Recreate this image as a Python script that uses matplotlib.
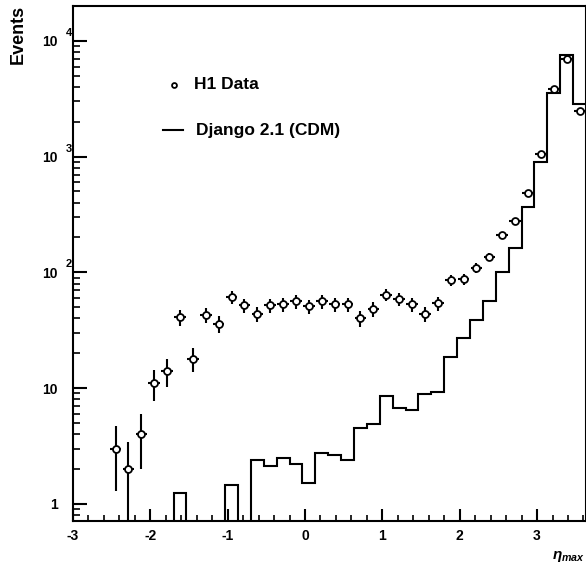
import numpy as np
import matplotlib
matplotlib.use("Agg")
import matplotlib.pyplot as plt
from matplotlib.ticker import FixedLocator, MultipleLocator, LogLocator, NullFormatter
import matplotlib.transforms as mtransforms

plt.rcParams['font.family'] = ['Liberation Sans', 'DejaVu Sans']
plt.rcParams['font.weight'] = 'bold'
plt.rcParams['axes.unicode_minus'] = False
plt.rcParams['mathtext.fontset'] = 'custom'
plt.rcParams['mathtext.rm'] = 'Liberation Sans:bold'
plt.rcParams['mathtext.it'] = 'Liberation Sans:bold:italic'
plt.rcParams['mathtext.bf'] = 'Liberation Sans:bold'

# eta_max bins, width 1/6, first edge at -2.7
first_edge = -2.7
bin_width = 1.0 / 6.0

# H1 data (events per bin), nan = no point
h1_events = [np.nan, 3, 2, 4, 11, 14, 41, 18, 43, 36,
             61, 52, 44, 52, 53, 56, 51, 56, 53, 53,
             40, 48, 64, 59, 53, 44, 54, 85, 87, 110,
             136, 209, 277, 488, 1050, 3840, 6980, 2470]
h1_err = [np.nan, 1.7, 1.4, 2.0, 3.3, 3.7, 6.4, 4.2, 6.6, 6.0,
          7.8, 7.2, 6.6, 7.2, 7.3, 7.5, 7.1, 7.5, 7.3, 7.3,
          6.3, 6.9, 8.0, 7.7, 7.3, 6.6, 7.3, 9.2, 9.3, 10.5,
          11.7, 14.5, 16.6, 22.1, 32.4, 62.0, 83.5, 49.7]

# Django 2.1 (CDM) prediction
django = [0, 0, 0, 0, 0, 0, 1.24, 0, 0, 0,
          1.45, 0, 2.39, 2.1, 2.48, 2.22, 1.5, 2.72, 2.65, 2.4,
          4.5, 4.9, 8.6, 6.7, 6.4, 8.9, 9.3, 18.6, 26.8, 39,
          57, 100, 163, 365, 894, 3540, 7580, 2860]

nbins = len(django)
edges = first_edge + bin_width * np.arange(nbins + 1)
centers = 0.5 * (edges[:-1] + edges[1:])

fig = plt.figure(figsize=(5.86, 5.67), dpi=100)
ax = fig.add_axes([73 / 586, 46 / 567, 513 / 586, 515 / 567])

hist_vals = np.where(np.array(django) > 0, django, 1e-3)
ax.stairs(hist_vals, edges, baseline=None, color='black', lw=1.5)

ax.errorbar(centers, h1_events, yerr=h1_err, xerr=0.075, fmt='o', ms=5,
            mfc='white', mec='black', mew=1.3, ecolor='black', elinewidth=1.5,
            capsize=0, zorder=3)

ax.set_yscale('log')
ax.set_xlim(-3, 3.633)
ax.set_ylim(0.71, 2e4)

ax.xaxis.set_major_locator(MultipleLocator(1))
ax.xaxis.set_minor_locator(MultipleLocator(0.2))
ax.yaxis.set_major_locator(FixedLocator([1, 10, 100, 1000, 10000]))
ax.yaxis.set_minor_locator(LogLocator(base=10, subs=np.arange(2, 10)))
ax.yaxis.set_minor_formatter(NullFormatter())
ax.set_yticklabels(['1', '10', '10', '10', '10'])

ax.tick_params(axis='both', which='both', direction='in', top=False, right=False)
ax.tick_params(axis='x', which='major', length=9, width=1.5, pad=6, labelsize=10)
ax.tick_params(axis='x', which='minor', length=4, width=1.2)
ax.tick_params(axis='y', which='major', length=10, width=1.5, pad=11, labelsize=10)
ax.tick_params(axis='y', which='minor', length=5, width=1.2)
for s in ax.spines.values():
    s.set_linewidth(1.5)

# exponents of the y labels
trans = mtransforms.blended_transform_factory(ax.transAxes, ax.transData)
for val, exp in [(100, '2'), (1000, '3'), (10000, '4')]:
    ax.text(-0.014, val * 1.17, exp, transform=trans, fontsize=8,
            fontweight='bold', ha='left', va='center', clip_on=False)

# legend
ax.plot([0.196], [0.847], 'o', ms=3.5, mfc='white', mec='black', mew=1.3,
        transform=ax.transAxes)
ax.text(0.235, 0.847, 'H1 Data', transform=ax.transAxes, fontsize=12.5,
        fontweight='bold', va='center')
ax.plot([0.175, 0.214], [0.759, 0.759], color='black', lw=1.5,
        transform=ax.transAxes)
ax.text(0.239, 0.759, 'Django 2.1 (CDM)', transform=ax.transAxes, fontsize=12.5,
        fontweight='bold', va='center')

fig.text(18 / 586, 1 - 5 / 567, 'Events', rotation=90, ha='center', va='top',
         fontsize=13, fontweight='bold')
fig.text(585 / 586, 1 - 556 / 567, r'$\eta_{max}$', ha='right', va='center',
         fontsize=11)

fig.savefig('out.png', dpi=100)
